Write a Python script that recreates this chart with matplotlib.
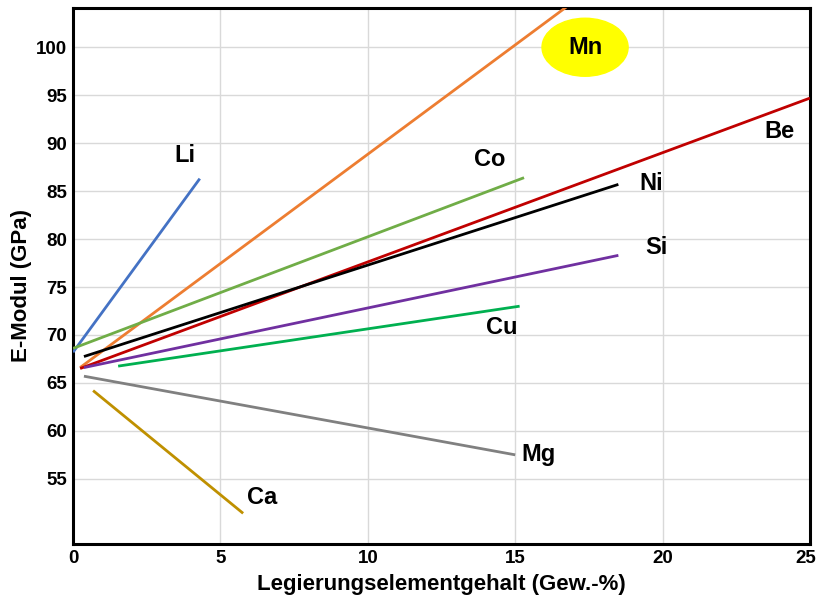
import matplotlib.pyplot as plt
from matplotlib.patches import Ellipse
from matplotlib.transforms import ScaledTranslation

plt.rcParams["font.family"] = ["Liberation Sans", "DejaVu Sans"]
plt.rcParams["font.weight"] = "bold"

# E-modulus vs. alloying element content
elements = ["Li", "Mn", "Be", "Ni", "Co", "Si", "Cu", "Mg", "Ca"]
x_start = [0.0, 0.24, 0.24, 0.37, 0.0, 0.37, 1.53, 0.37, 0.68]
x_end = [4.3, 17.0, 25.0, 18.5, 15.3, 18.5, 15.15, 15.0, 5.77]
y_start = [68.2, 66.6, 66.5, 67.75, 68.6, 66.6, 66.75, 65.7, 64.2]
y_end = [86.3, 104.8, 94.7, 85.7, 86.4, 78.3, 73.0, 57.5, 51.4]

colors = ["#4472C4", "#ED7D31", "#C00000", "#000000", "#70AD47",
          "#7030A0", "#00B050", "#808080", "#BF9000"]

label_x = [3.8, 17.37, 23.95, 19.6, 14.15, 19.8, 14.55, 15.8, 6.4]
label_y = [88.7, 100.0, 91.2, 85.8, 88.3, 79.1, 70.8, 57.5, 53.1]

x_ticks = [0, 5, 10, 15, 20, 25]
y_ticks = [55, 60, 65, 70, 75, 80, 85, 90, 95, 100]

fig = plt.figure(figsize=(8.17, 6.01), dpi=100)
ax = fig.add_axes([0.0894, 0.0948, 0.902, 0.892])

for i, name in enumerate(elements):
    ax.plot([x_start[i], x_end[i]], [y_start[i], y_end[i]],
            color=colors[i], lw=2.0, solid_capstyle="butt", zorder=3)

# Mn label sits in a yellow ellipse
ax.add_patch(Ellipse((17.37, 100.0), 2.92, 6.05, color="#FFFF00", zorder=2))

for i, name in enumerate(elements):
    ax.text(label_x[i], label_y[i], name, fontsize=17, fontweight="bold",
            ha="center", va="center", zorder=4)

ax.set_xlim(0, 25)
ax.set_ylim(48.2, 104.1)
ax.set_xticks(x_ticks)
ax.set_yticks(y_ticks)
ax.tick_params(length=0, labelsize=13.5, pad=4)
for lab in ax.get_xticklabels() + ax.get_yticklabels():
    lab.set_fontweight("bold")
# keep the last x label inside the figure edge
last = ax.get_xticklabels()[-1]
last.set_transform(last.get_transform() +
                   ScaledTranslation(-4 / 100, 0, fig.dpi_scale_trans))

ax.grid(True, color="#D9D9D9", lw=1)
ax.set_axisbelow(True)
for sp in ax.spines.values():
    sp.set_linewidth(2.2)
    sp.set_color("black")

ax.set_xlabel("Legierungselementgehalt (Gew.-%)", fontsize=16,
              fontweight="bold", labelpad=5)
ax.set_ylabel("E-Modul (GPa)", fontsize=16, fontweight="bold")
ax.yaxis.set_label_coords(-0.056, 0.483)

fig.savefig("out.png", dpi=100)
